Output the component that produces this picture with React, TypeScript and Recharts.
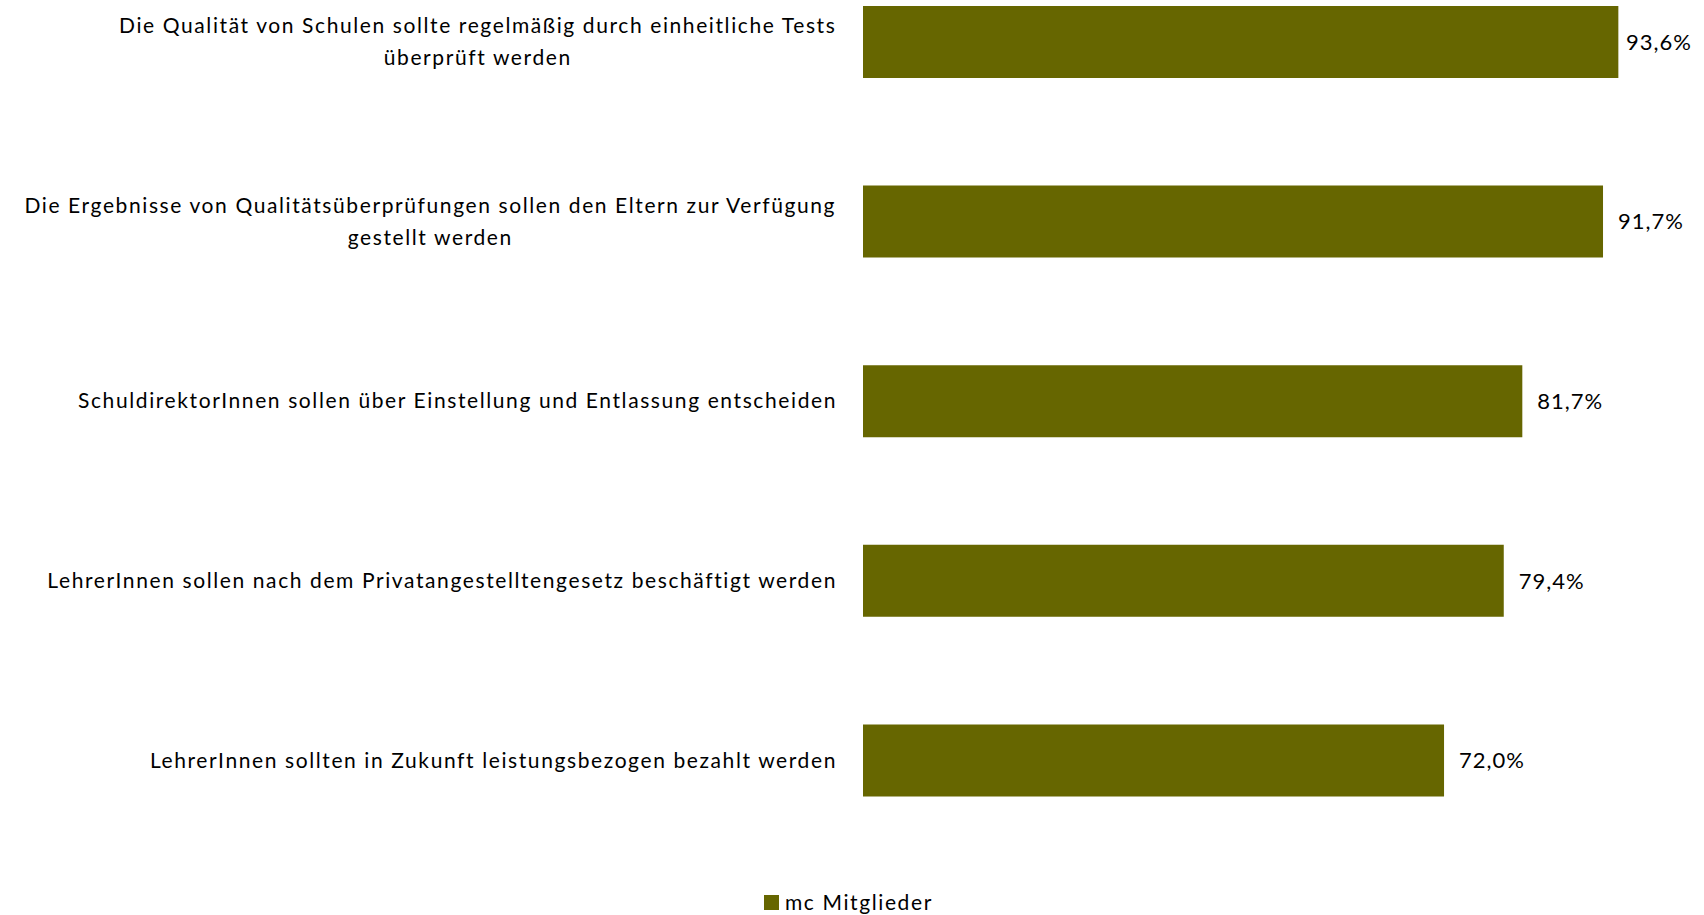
import React from 'react';
import { BarChart, Bar, XAxis, YAxis, LabelList, Legend } from 'recharts';

const categories: string[][] = [
  ['Die Qualität von Schulen sollte regelmäßig durch einheitliche Tests', 'überprüft werden'],
  ['Die Ergebnisse von Qualitätsüberprüfungen sollen den Eltern zur Verfügung', 'gestellt werden'],
  ['SchuldirektorInnen sollen über Einstellung und Entlassung entscheiden'],
  ['LehrerInnen sollen nach dem Privatangestelltengesetz beschäftigt werden'],
  ['LehrerInnen sollten in Zukunft leistungsbezogen bezahlt werden'],
];
const values: number[] = [93.6, 91.7, 81.7, 79.4, 72.0];
const seriesName = 'mc Mitglieder';
const BAR_COLOR = '#666600';
const FONT = 'Lato';
const CAT_SIZE = 21;
const CAT_LS = 1.6;
const VAL_SIZE = 22;
const VAL_LS = 1;
const LABEL_LIMIT = 1692;

const data = categories.map((lines, i) => ({ name: lines.join('\n'), v: values[i] }));

let ctx: CanvasRenderingContext2D | null = null;
function measure(text: string, size: number, ls: number): number {
  if (!ctx) ctx = document.createElement('canvas').getContext('2d');
  if (!ctx) return text.length * (size * 0.5 + ls);
  ctx.font = `${size}px ${FONT}`;
  return ctx.measureText(text).width + text.length * ls;
}

const CatTick = (props: any) => {
  const { x, y, payload } = props;
  const lines: string[] = String(payload.value).split('\n');
  if (lines.length === 1) {
    return (
      <text x={x} y={y} dy="0.35em" textAnchor="end" fontFamily={FONT} fontSize={CAT_SIZE} letterSpacing={CAT_LS} fill="#000">
        {lines[0]}
      </text>
    );
  }
  const w = measure(lines[0], CAT_SIZE, CAT_LS);
  const cx = x - w / 2;
  const lh = 32;
  const start = -((lines.length - 1) * lh) / 2;
  return (
    <g>
      {lines.map((l, i) => (
        <text key={i} x={cx} y={y + start + i * lh} dy="0.35em" textAnchor="middle" fontFamily={FONT} fontSize={CAT_SIZE} letterSpacing={CAT_LS} fill="#000">
          {l}
        </text>
      ))}
    </g>
  );
};

const ValueLabel = (props: any) => {
  const { x, y, width, height, value } = props;
  const txt = Number(value).toFixed(1).replace('.', ',') + '%';
  const w = measure(txt, VAL_SIZE, VAL_LS);
  let tx = x + width + 15;
  if (tx + w > LABEL_LIMIT) tx = LABEL_LIMIT - w;
  return (
    <text x={tx} y={y + height / 2} dy="0.35em" textAnchor="start" fontFamily={FONT} fontSize={VAL_SIZE} letterSpacing={VAL_LS} fill="#000">
      {txt}
    </text>
  );
};

const LegendContent = () => (
  <div style={{ display: 'flex', alignItems: 'center', fontFamily: FONT, fontSize: CAT_SIZE, letterSpacing: CAT_LS, color: '#000', lineHeight: '26px' }}>
    <span style={{ display: 'inline-block', width: 15, height: 15, background: BAR_COLOR, marginRight: 6 }} />
    <span>{seriesName}</span>
  </div>
);

export default function App() {
  return (
    <div style={{ position: 'absolute', left: 0, top: -48, width: 1704, height: 963, background: '#fff' }}>
      <BarChart
        width={1704}
        height={963}
        data={data}
        layout="vertical"
        margin={{ top: 0, right: 34, left: 0, bottom: 39 }}
        barSize={72}
      >
        <XAxis type="number" domain={[0, 100]} hide />
        <YAxis
          type="category"
          dataKey="name"
          width={863}
          axisLine={false}
          tickLine={false}
          tickMargin={20}
          tick={<CatTick />}
          interval={0}
        />
        <Legend content={<LegendContent />} wrapperStyle={{ left: 764, top: 937, width: 'auto', bottom: 'auto' }} />
        <Bar dataKey="v" name={seriesName} fill={BAR_COLOR} isAnimationActive={false}>
          <LabelList dataKey="v" content={<ValueLabel />} />
        </Bar>
      </BarChart>
    </div>
  );
}
